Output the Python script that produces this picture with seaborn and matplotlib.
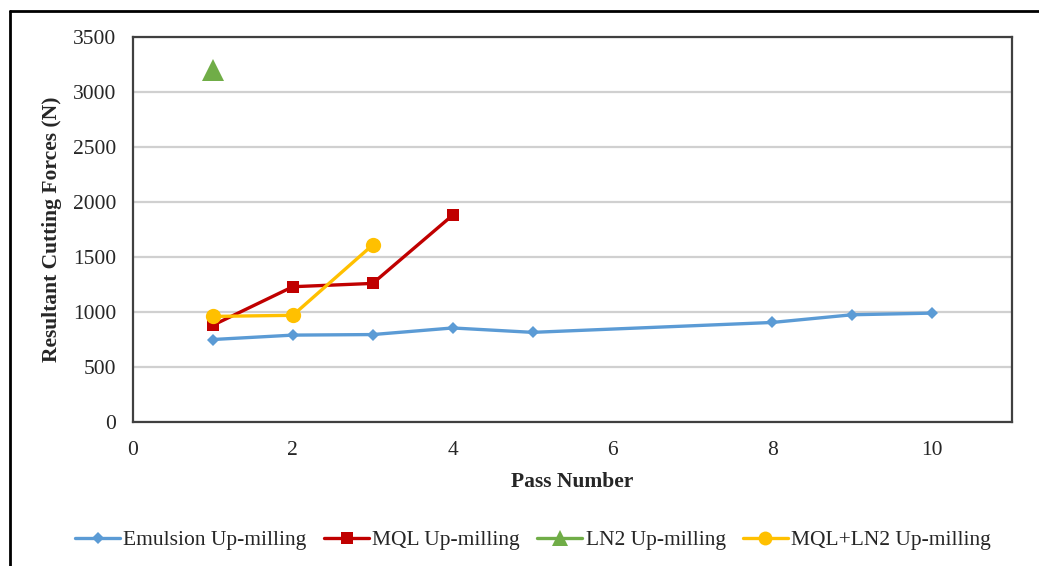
import matplotlib
matplotlib.use("Agg")
import matplotlib.pyplot as plt
from matplotlib.lines import Line2D
import seaborn as sns
import pandas as pd

# Resultant cutting force per pass for each cooling strategy
emulsion_pass = [1, 2, 3, 4, 5, 8, 9, 10]
emulsion_force = [750, 790, 795, 855, 815, 905, 975, 990]

mql_pass = [1, 2, 3, 4]
mql_force = [880, 1230, 1260, 1880]

ln2_pass = [1]
ln2_force = [3200]

mql_ln2_pass = [1, 2, 3]
mql_ln2_force = [960, 970, 1610]

series_names = ["Emulsion Up-milling", "MQL Up-milling", "LN2 Up-milling", "MQL+LN2 Up-milling"]
series_colors = ["#5B9BD5", "#C00000", "#70AD47", "#FFC000"]
series_markers = ["D", "s", "^", "o"]
series_msize = [6, 9, 16, 11]
legend_msize = [6, 9, 11, 10]

x_ticks = [0, 2, 4, 6, 8, 10]
y_ticks = [0, 500, 1000, 1500, 2000, 2500, 3000, 3500]

frames = []
for name, xs, ys in zip(series_names,
                        [emulsion_pass, mql_pass, ln2_pass, mql_ln2_pass],
                        [emulsion_force, mql_force, ln2_force, mql_ln2_force]):
    frames.append(pd.DataFrame({"Pass": xs, "Force": ys, "Series": name}))
df = pd.concat(frames, ignore_index=True)

sns.set_theme(style="white")
plt.rcParams["font.family"] = ["Liberation Serif", "DejaVu Serif"]

fig = plt.figure(figsize=(10.39, 5.66), dpi=100)
ax = fig.add_axes([0.128, 0.2544, 0.846, 0.6802])

for name, color, mk, ms in zip(series_names, series_colors, series_markers, series_msize):
    sub = df[df["Series"] == name]
    sns.lineplot(data=sub, x="Pass", y="Force", ax=ax, color=color, marker=mk,
                 markersize=ms, markeredgewidth=0, linewidth=2.4, legend=False,
                 estimator=None, sort=False)

ax.set_xlim(0, 11)
ax.set_ylim(0, 3500)
ax.set_xticks(x_ticks)
ax.set_yticks(y_ticks)
ax.tick_params(axis="both", labelsize=15.5, length=0)
ax.tick_params(axis="x", pad=14)
ax.tick_params(axis="y", pad=12)
ax.yaxis.grid(True, color="#D0D0D0", linewidth=1.6)
ax.set_axisbelow(True)
for sp in ax.spines.values():
    sp.set_visible(True)
    sp.set_color("#404040")
    sp.set_linewidth(1.6)

ax.set_xlabel("Pass Number", fontsize=15.5, fontweight="bold", labelpad=8)
ax.set_ylabel("Resultant Cutting Forces (N)", fontsize=15.5, fontweight="bold", labelpad=8)

handles = [Line2D([0], [0], color=c, marker=m, markersize=s, markeredgewidth=0,
                  linewidth=2.4)
           for c, m, s in zip(series_colors, series_markers, legend_msize)]
fig.legend(handles, series_names, loc="center", bbox_to_anchor=(0.513, 1 - 540 / 566),
           ncol=4, frameon=False, fontsize=15.5, handlelength=2.1, handletextpad=0.15,
           columnspacing=0.8)

# outer frame (left and top edges)
fig.add_artist(Line2D([10 / 1039, 10 / 1039], [0, 1 - 11 / 566], transform=fig.transFigure,
                      color="black", linewidth=2))
fig.add_artist(Line2D([10 / 1039, 1], [1 - 11 / 566, 1 - 11 / 566], transform=fig.transFigure,
                      color="black", linewidth=2))

fig.savefig("out.png", dpi=100, facecolor="white")
